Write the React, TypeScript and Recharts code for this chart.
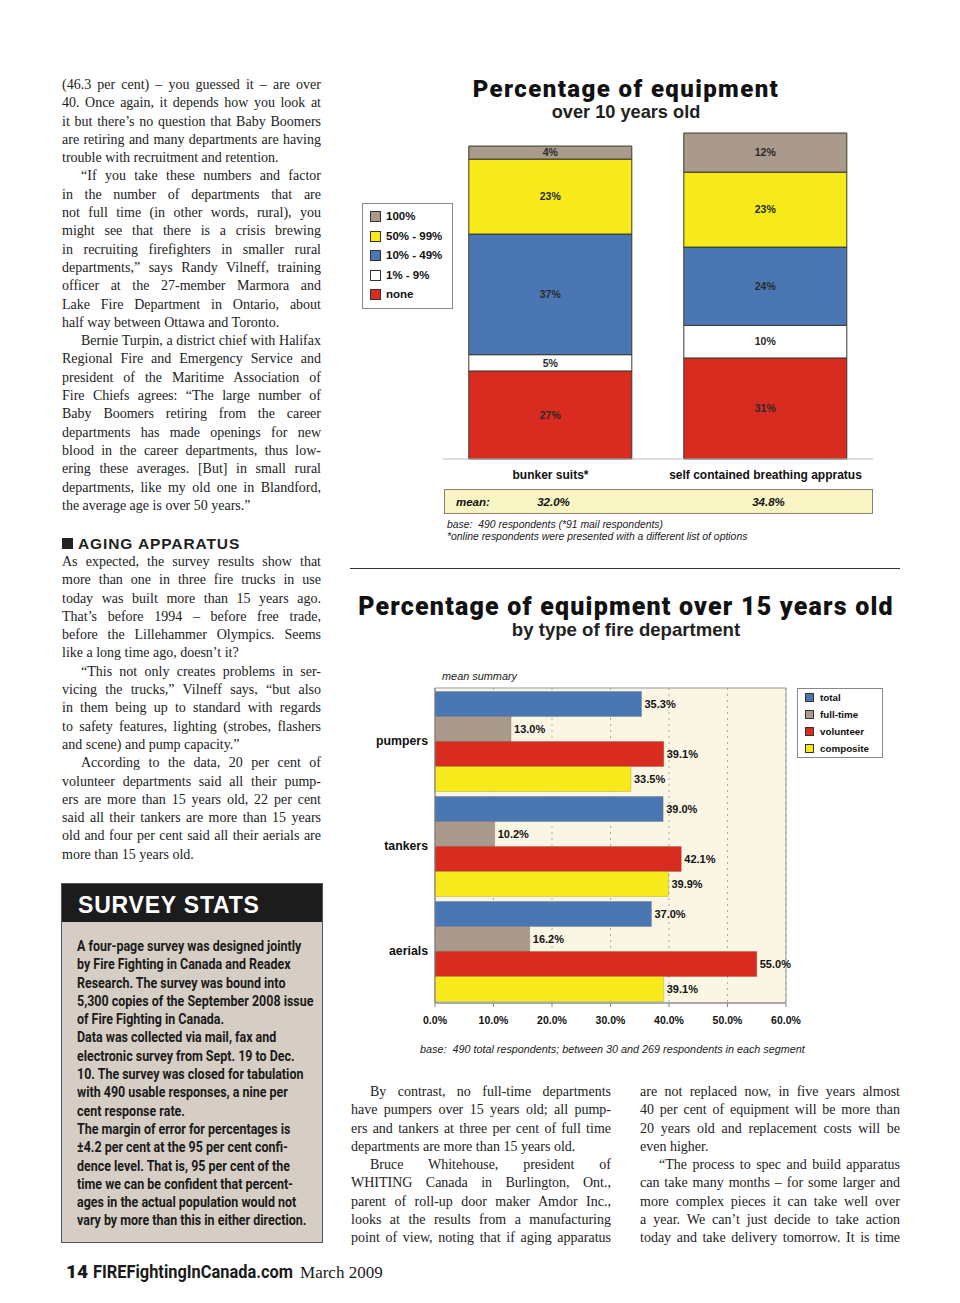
import React from "react";
import {
  BarChart,
  Bar,
  XAxis,
  YAxis,
  CartesianGrid,
  LabelList,
  Legend,
  ReferenceArea,
} from "recharts";

// equipment over 10 years old (stacked shares, %)
const equipCategories = ["bunker suits*", "self contained breathing appratus"];
const noneShare = [27, 31];
const lowShare = [5, 10];
const midShare = [37, 24];
const highShare = [23, 23];
const allShare = [4, 12];
const meanAge = [32.0, 34.8];

// equipment over 15 years old by department type (%)
const apparatusTypes = ["pumpers", "tankers", "aerials"];
const totalPct = [35.3, 39.0, 37.0];
const fullTimePct = [13.0, 10.2, 16.2];
const volunteerPct = [39.1, 42.1, 55.0];
const compositePct = [33.5, 39.9, 39.1];
const pctTicks = [0, 10, 20, 30, 40, 50, 60];

const BLUE = "#4a77b4";
const TAN = "#a99a8b";
const RED = "#d92b1f";
const YELLOW = "#f6ea1a";

const SERIF = "'Liberation Serif', 'DejaVu Serif', serif";
const SANS = "'Liberation Sans', Arial, sans-serif";
const HEAVY = "Roboto, 'Liberation Sans', sans-serif";

const equipData = equipCategories.map((name, i) => ({
  name,
  none: noneShare[i],
  low: lowShare[i],
  mid: midShare[i],
  high: highShare[i],
  all: allShare[i],
}));

const equipSeries = [
  { key: "none", name: "none", color: RED },
  { key: "low", name: "1% - 9%", color: "#ffffff" },
  { key: "mid", name: "10% - 49%", color: BLUE },
  { key: "high", name: "50% - 99%", color: YELLOW },
  { key: "all", name: "100%", color: TAN },
];

const apparatusData = apparatusTypes.map((name, i) => ({
  name,
  total: totalPct[i],
  fulltime: fullTimePct[i],
  volunteer: volunteerPct[i],
  composite: compositePct[i],
}));

const deptSeries = [
  { key: "total", name: "total", color: BLUE },
  { key: "fulltime", name: "full-time", color: TAN },
  { key: "volunteer", name: "volunteer", color: RED },
  { key: "composite", name: "composite", color: YELLOW },
];

// article text, one entry per printed line
const colA1 = [
  "(46.3 per cent) – you guessed it – are over",
  "40. Once again, it depends how you look at",
  "it but there’s no question that Baby Boomers",
  "are retiring and many departments are having",
  "trouble with recruitment and retention.",
];
const colA2 = [
  "“If you take these numbers and factor",
  "in the number of departments that are",
  "not full time (in other words, rural), you",
  "might see that there is a crisis brewing",
  "in recruiting firefighters in smaller rural",
  "departments,” says Randy Vilneff, training",
  "officer at the 27-member Marmora and",
  "Lake Fire Department in Ontario, about",
  "half way between Ottawa and Toronto.",
];
const colA3 = [
  "Bernie Turpin, a district chief with Halifax",
  "Regional Fire and Emergency Service and",
  "president of the Maritime Association of",
  "Fire Chiefs agrees: “The large number of",
  "Baby Boomers retiring from the career",
  "departments has made openings for new",
  "blood in the career departments, thus low-",
  "ering these averages. [But] in small rural",
  "departments, like my old one in Blandford,",
  "the average age is over 50 years.”",
];
const agingP1 = [
  "As expected, the survey results show that",
  "more than one in three fire trucks in use",
  "today was built more than 15 years ago.",
  "That’s before 1994 – before free trade,",
  "before the Lillehammer Olympics. Seems",
  "like a long time ago, doesn’t it?",
];
const agingP2 = [
  "“This not only creates problems in ser-",
  "vicing the trucks,” Vilneff says, “but also",
  "in them being up to standard with regards",
  "to safety features, lighting (strobes, flashers",
  "and scene) and pump capacity.”",
];
const agingP3 = [
  "According to the data, 20 per cent of",
  "volunteer departments said all their pump-",
  "ers are more than 15 years old, 22 per cent",
  "said all their tankers are more than 15 years",
  "old and four per cent said all their aerials are",
  "more than 15 years old.",
];
const statsLines = [
  "A four-page survey was designed jointly",
  "by Fire Fighting in Canada and Readex",
  "Research. The survey was bound into",
  "5,300 copies of the September 2008 issue",
  "of Fire Fighting in Canada.",
  "Data was collected via mail, fax and",
  "electronic survey from Sept. 19 to Dec.",
  "10. The survey was closed for tabulation",
  "with 490 usable responses, a nine per",
  "cent response rate.",
  "The margin of error for percentages is",
  "±4.2 per cent at the 95 per cent confi-",
  "dence level. That is, 95 per cent of the",
  "time we can be confident that percent-",
  "ages in the actual population would not",
  "vary by more than this in either direction.",
];
const colB1 = [
  "By contrast, no full-time departments",
  "have pumpers over 15 years old; all pump-",
  "ers and tankers at three per cent of full time",
  "departments are more than 15 years old.",
];
const colB2 = [
  "Bruce Whitehouse, president of",
  "WHITING Canada in Burlington, Ont.,",
  "parent of roll-up door maker Amdor Inc.,",
  "looks at the results from a manufacturing",
  "point of view, noting that if aging apparatus",
];
const colC1 = [
  "are not replaced now, in five years almost",
  "40 per cent of equipment will be more than",
  "20 years old and replacement costs will be",
  "even higher.",
];
const colC2 = [
  "“The process to spec and build apparatus",
  "can take many months – for some larger and",
  "more complex pieces it can take well over",
  "a year. We can’t just decide to take action",
  "today and take delivery tomorrow. It is time",
];

const LINE = 18.3;

const Para = ({ lines, indent = 0, endOpen = false }: { lines: string[]; indent?: number; endOpen?: boolean }) => (
  <>
    {lines.map((l, i) => (
      <div
        key={i}
        style={{
          whiteSpace: "nowrap",
          textAlign: "justify",
          textAlignLast: i === lines.length - 1 && !endOpen ? "left" : "justify",
          textIndent: i === 0 ? indent : 0,
          height: LINE,
          lineHeight: `${LINE}px`,
        }}
      >
        {l}
      </div>
    ))}
  </>
);

const Column = ({ left, top, width, children }: any) => (
  <div
    style={{
      position: "absolute",
      left,
      top,
      width,
      fontFamily: SERIF,
      fontSize: 14,
      color: "#222",
    }}
  >
    {children}
  </div>
);

const BoxLegend = (props: any) => {
  const { payload, order, rowH, swatch, fontSize, pad, textX } = props;
  const items = (payload || [])
    .slice()
    .sort((a: any, b: any) => order.indexOf(a.dataKey) - order.indexOf(b.dataKey));
  return (
    <div
      style={{
        background: "#fff",
        border: "1px solid #888",
        padding: `${pad}px 0`,
        fontFamily: SANS,
        fontWeight: 700,
        fontSize,
        color: "#111",
      }}
    >
      {items.map((p: any) => (
        <div key={p.value} style={{ position: "relative", height: rowH, lineHeight: `${rowH}px` }}>
          <span
            style={{
              position: "absolute",
              left: 7,
              top: (rowH - swatch) / 2,
              width: swatch - 2,
              height: swatch - 2,
              background: p.color,
              border: "1px solid #333",
            }}
          />
          <span style={{ position: "absolute", left: textX }}>{p.value}</span>
        </div>
      ))}
    </div>
  );
};

const pctLabel = (v: any) => `${v}%`;
const pct1Label = (v: any) => `${Number(v).toFixed(1)}%`;

export default function App() {
  const band1 = 430 / equipCategories.length;
  return (
    <div style={{ position: "relative", width: 960, height: 1303, background: "#fff", overflow: "hidden" }}>
      <style>{"body{margin:0}"}</style>

      {/* left column article */}
      <Column left={62} top={76} width={259}>
        <Para lines={colA1} />
        <Para lines={colA2} indent={19} />
        <Para lines={colA3} indent={19} />
      </Column>

      <div
        style={{
          position: "absolute",
          left: 62,
          top: 535,
          fontFamily: SANS,
          fontWeight: 700,
          fontSize: 15.5,
          letterSpacing: 0.9,
          color: "#222",
          whiteSpace: "nowrap",
        }}
      >
        <span style={{ display: "inline-block", width: 11, height: 11, background: "#222", marginRight: 5 }} />
        AGING APPARATUS
      </div>

      <Column left={62} top={553} width={259}>
        <Para lines={agingP1} />
        <Para lines={agingP2} indent={19} />
        <Para lines={agingP3} indent={19} />
      </Column>

      {/* survey stats box */}
      <div
        style={{
          position: "absolute",
          left: 61,
          top: 883,
          width: 260,
          height: 358,
          background: "#d6cec4",
          border: "1px solid #555",
        }}
      >
        <div
          style={{
            height: 38,
            background: "#1c1c1c",
            color: "#fff",
            fontFamily: SANS,
            fontWeight: 700,
            fontSize: 23,
            letterSpacing: 0.8,
            lineHeight: "42px",
            paddingLeft: 16,
          }}
        >
          SURVEY STATS
        </div>
        <div
          style={{
            position: "absolute",
            left: 15,
            top: 53,
            transform: "scaleX(0.89)",
            transformOrigin: "left top",
            fontFamily: HEAVY,
            fontWeight: 700,
            fontSize: 14,
            color: "#1a1a1a",
            whiteSpace: "nowrap",
          }}
        >
          {statsLines.map((l, i) => (
            <div key={i} style={{ height: LINE, lineHeight: `${LINE}px` }}>
              {l}
            </div>
          ))}
        </div>
      </div>

      {/* footer */}
      <div style={{ position: "absolute", left: 66, top: 1260, whiteSpace: "nowrap", color: "#1a1a1a" }}>
        <span style={{ fontFamily: HEAVY, fontWeight: 900, fontSize: 19 }}>14</span>
        <span
          style={{
            display: "inline-block",
            fontFamily: HEAVY,
            fontWeight: 700,
            fontSize: 18,
            transform: "scaleX(0.91)",
            transformOrigin: "left",
            width: 200,
            marginLeft: 5,
          }}
        >
          FIREFightingInCanada.com
        </span>
        <span style={{ fontFamily: SERIF, fontSize: 17, marginLeft: 7 }}>March 2009</span>
      </div>

      {/* chart 1 titles */}
      <div
        style={{
          position: "absolute",
          left: 350,
          top: 75,
          width: 552,
          textAlign: "center",
          fontFamily: HEAVY,
          fontWeight: 900,
          fontSize: 24,
          letterSpacing: 1.4,
          lineHeight: "28px",
          color: "#111",
        }}
      >
        Percentage of equipment
      </div>
      <div
        style={{
          position: "absolute",
          left: 350,
          top: 101,
          width: 552,
          textAlign: "center",
          fontFamily: SANS,
          fontWeight: 700,
          fontSize: 18.2,
          lineHeight: "22px",
          color: "#222",
        }}
      >
        over 10 years old
      </div>

      {/* chart 1 */}
      <div style={{ position: "absolute", left: 355, top: 120 }}>
        <BarChart
          width={545}
          height={369}
          data={equipData}
          margin={{ top: 13, right: 27, left: 88, bottom: 0 }}
          barCategoryGap="12%"
        >
          <XAxis
            dataKey="name"
            height={30}
            tickLine={false}
            axisLine={{ stroke: "#bbb" }}
            tickMargin={5}
            tick={{ fontSize: 12, fontWeight: 700, fill: "#111", fontFamily: SANS }}
          />
          <YAxis hide domain={[0, 100]} />
          <Legend
            layout="vertical"
            align="center"
            verticalAlign="middle"
            wrapperStyle={{ left: 7, top: 83, width: 91 }}
            content={
              <BoxLegend
                order={["all", "high", "mid", "low", "none"]}
                rowH={19.5}
                swatch={11}
                fontSize={11.5}
                pad={3}
                textX={23}
              />
            }
          />
          {equipSeries.map((s) => (
            <Bar
              key={s.key}
              dataKey={s.key}
              name={s.name}
              stackId="a"
              fill={s.color}
              stroke="#3a3a2a"
              strokeWidth={1}
              isAnimationActive={false}
            >
              <LabelList
                dataKey={s.key}
                position="center"
                formatter={pctLabel}
                style={{ fontSize: 10.5, fontWeight: 700, fill: "#2a2a2a", fontFamily: SANS }}
              />
            </Bar>
          ))}
        </BarChart>
      </div>

      {/* mean strip */}
      <div
        style={{
          position: "absolute",
          left: 444,
          top: 489,
          width: 427,
          height: 23,
          background: "#f8f4c4",
          border: "1px solid #8a8270",
          fontFamily: SANS,
          fontWeight: 700,
          fontStyle: "italic",
          fontSize: 11.5,
          lineHeight: "24px",
          color: "#111",
        }}
      >
        <span style={{ position: "absolute", left: 11 }}>mean:</span>
        {meanAge.map((m, i) => (
          <span
            key={i}
            style={{ position: "absolute", left: band1 * (i + 0.5) - 41, width: 84, textAlign: "center" }}
          >
            {m.toFixed(1)}%
          </span>
        ))}
      </div>
      <div
        style={{
          position: "absolute",
          left: 447,
          top: 519,
          fontFamily: SANS,
          fontStyle: "italic",
          fontSize: 10.4,
          lineHeight: "12px",
          color: "#222",
          whiteSpace: "nowrap",
        }}
      >
        <div>base:&nbsp; 490 respondents (*91 mail respondents)</div>
        <div>*online respondents were presented with a different list of options</div>
      </div>

      <div style={{ position: "absolute", left: 350, top: 568, width: 550, height: 1, background: "#333" }} />

      {/* chart 2 titles */}
      <div
        style={{
          position: "absolute",
          left: 340,
          top: 592,
          width: 572,
          textAlign: "center",
          fontFamily: HEAVY,
          fontWeight: 900,
          fontSize: 25,
          letterSpacing: 1.2,
          lineHeight: "30px",
          color: "#111",
          whiteSpace: "nowrap",
        }}
      >
        Percentage of equipment over 15 years old
      </div>
      <div
        style={{
          position: "absolute",
          left: 350,
          top: 619,
          width: 552,
          textAlign: "center",
          fontFamily: SANS,
          fontWeight: 700,
          fontSize: 18.6,
          lineHeight: "22px",
          color: "#222",
        }}
      >
        by type of fire department
      </div>
      <div
        style={{
          position: "absolute",
          left: 442,
          top: 670,
          fontFamily: SANS,
          fontStyle: "italic",
          fontSize: 10.9,
          color: "#222",
        }}
      >
        mean summary
      </div>

      {/* chart 2 */}
      <div style={{ position: "absolute", left: 355, top: 680 }}>
        <BarChart
          width={545}
          height={353}
          data={apparatusData}
          layout="vertical"
          margin={{ top: 8, right: 114, left: 0, bottom: 0 }}
          barCategoryGap="3.3%"
          barGap={0}
        >
          <CartesianGrid
            horizontal={false}
            stroke="#aaa"
            strokeDasharray="2 4"
            fill="#fbf6e4"
            fillOpacity={1}
          />
          <ReferenceArea x1={0} x2={60} stroke="#999" fillOpacity={0} ifOverflow="visible" />
          <XAxis
            type="number"
            domain={[0, 60]}
            ticks={pctTicks}
            height={30}
            tickSize={4}
            tickMargin={10}
            tickFormatter={pct1Label}
            axisLine={{ stroke: "#888" }}
            tickLine={{ stroke: "#888" }}
            tick={{ fontSize: 10.5, fontWeight: 700, fill: "#111", fontFamily: SANS }}
          />
          <YAxis
            type="category"
            dataKey="name"
            width={80}
            tickLine={false}
            tickSize={5}
            tickMargin={2}
            axisLine={{ stroke: "#888" }}
            tick={{ fontSize: 12.3, fontWeight: 700, fill: "#111", fontFamily: SANS }}
          />
          <Legend
            layout="vertical"
            align="center"
            verticalAlign="middle"
            wrapperStyle={{ left: 442, top: 8, width: 86 }}
            content={
              <BoxLegend
                order={["total", "fulltime", "volunteer", "composite"]}
                rowH={17}
                swatch={9}
                fontSize={9.8}
                pad={0}
                textX={22}
              />
            }
          />
          {deptSeries.map((s) => (
            <Bar
              key={s.key}
              dataKey={s.key}
              name={s.name}
              fill={s.color}
              stroke="rgba(0,0,0,0.15)"
              isAnimationActive={false}
            >
              <LabelList
                dataKey={s.key}
                position="right"
                offset={3}
                formatter={pct1Label}
                style={{ fontSize: 11, fontWeight: 700, fill: "#111", fontFamily: SANS }}
              />
            </Bar>
          ))}
        </BarChart>
      </div>
      <div
        style={{
          position: "absolute",
          left: 420,
          top: 1043,
          fontFamily: SANS,
          fontStyle: "italic",
          fontSize: 10.8,
          color: "#222",
          whiteSpace: "nowrap",
        }}
      >
        base:&nbsp; 490 total respondents; between 30 and 269 respondents in each segment
      </div>

      {/* bottom columns */}
      <Column left={351} top={1083} width={260}>
        <Para lines={colB1} indent={19} />
        <Para lines={colB2} indent={19} endOpen />
      </Column>
      <Column left={640} top={1083} width={260}>
        <Para lines={colC1} />
        <Para lines={colC2} indent={19} endOpen />
      </Column>
    </div>
  );
}
